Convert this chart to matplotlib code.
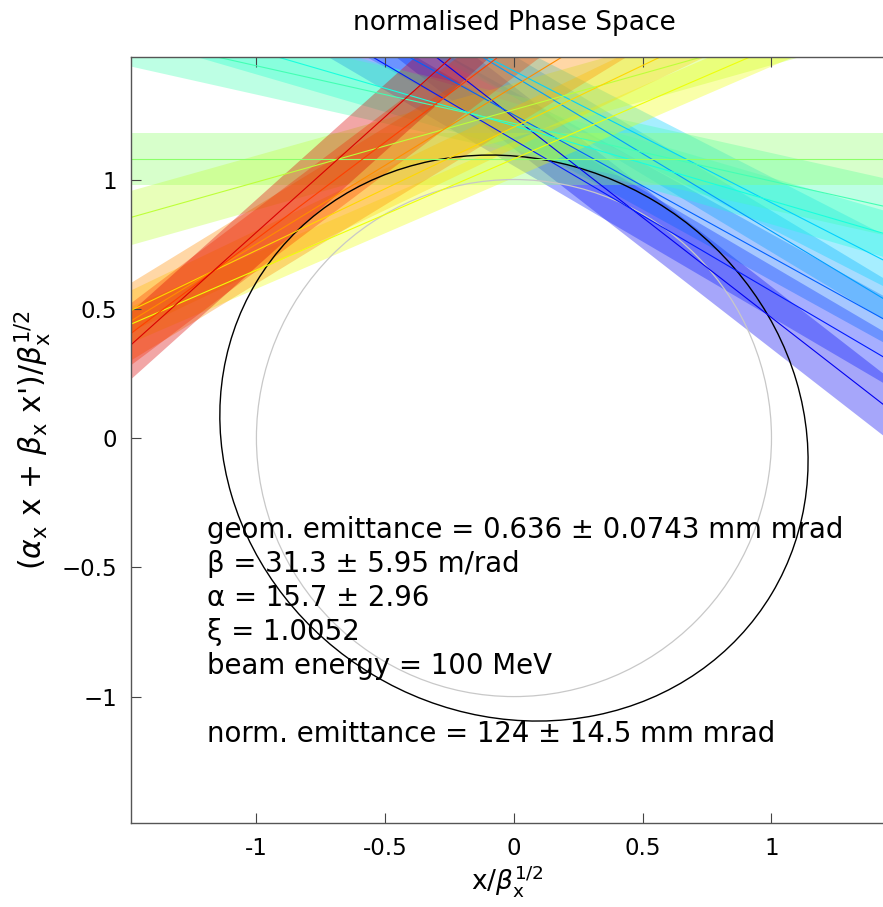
import numpy as np
import matplotlib
matplotlib.use("Agg")
import matplotlib.pyplot as plt
from matplotlib.patches import Ellipse, Circle
import matplotlib.transforms as mtransforms

# ---- measurement lines: y = slope * x + intercept, band = +/- half-width (vertical)
slopes      = [-0.774, -0.585, -0.55, -0.60, -0.51, -0.29, -0.223, 0.0, 0.28, 0.43, 0.477, 0.61, 0.75, 0.894]
intercepts  = [1.24, 1.153, 1.25, 1.40, 1.42, 1.208, 1.217, 1.08, 1.27, 1.08, 1.203, 1.36, 1.52, 1.69]
halfwidths  = [0.12, 0.10, 0.09, 0.08, 0.10, 0.09, 0.11, 0.10, 0.105, 0.07, 0.08, 0.15, 0.12, 0.13]
colour_vals = [0.10, 0.15, 0.22, 0.28, 0.33, 0.38, 0.43, 0.52, 0.58, 0.64, 0.68, 0.76, 0.84, 0.92]

# ---- fitted ellipse and unit circle
ell_semi_major = 1.168
ell_semi_minor = 1.067
ell_angle_deg = -31.0
circle_radius = 1.0

# ---- axes
x_limits = (-1.487, 1.433)
y_limits = (-1.489, 1.474)
x_ticks = [-1, -0.5, 0, 0.5, 1]
x_tick_labels = ["-1", "-0.5", "0", "0.5", "1"]
y_ticks = [-1, -0.5, 0, 0.5, 1]
y_tick_labels = ["\u22121", "\u22120.5", "0", "0.5", "1"]

title_text = "normalised Phase Space"
info_lines = [
    "geom. emittance = 0.636 \u00b1 0.0743 mm mrad",
    "\u03b2 = 31.3 \u00b1 5.95 m/rad",
    "\u03b1 = 15.7 \u00b1 2.96",
    "\u03be = 1.0052",
    "beam energy = 100 MeV",
    "",
    "norm. emittance = 124 \u00b1 14.5 mm mrad",
]

plt.rcParams['font.family'] = ['DejaVu Sans']
plt.rcParams['mathtext.fontset'] = 'dejavusans'

fig = plt.figure(figsize=(8.83, 9.07), dpi=100)
ax = fig.add_axes([131 / 883, 84 / 907, 752 / 883, 766 / 907])

cmap = plt.get_cmap('jet')
xs = np.linspace(x_limits[0] - 0.1, x_limits[1] + 0.1, 200)
for m, c, h, v in zip(slopes, intercepts, halfwidths, colour_vals):
    col = cmap(v)
    ys = m * xs + c
    ax.fill_between(xs, ys - h, ys + h, color=col, alpha=0.35, lw=0)
for m, c, h, v in zip(slopes, intercepts, halfwidths, colour_vals):
    col = cmap(v)
    ys = m * xs + c
    ax.plot(xs, ys, color=col, lw=0.8)

ax.add_patch(Circle((0, 0), circle_radius, fill=False, ec='#c8c8c8', lw=0.9))
ax.add_patch(Ellipse((0, 0), 2 * ell_semi_major, 2 * ell_semi_minor, angle=ell_angle_deg,
                     fill=False, ec='black', lw=1.0))

ax.set_xlim(*x_limits)
ax.set_ylim(*y_limits)

ax.set_xticks(x_ticks)
ax.set_xticklabels(x_tick_labels)
ax.set_yticks(y_ticks)
ax.set_yticklabels(y_tick_labels)
ax.tick_params(direction='in', length=7, width=0.8, color='#444444', labelsize=16.5,
               top=True, right=False, pad=10)
for sp in ax.spines.values():
    sp.set_color('#555555')
    sp.set_linewidth(1.0)
ax.spines['right'].set_visible(False)

ax.set_xlabel(r"x/$\beta_{\mathrm{x}}^{1/2}$", fontsize=19, labelpad=2)
ax.set_ylabel(r"($\alpha_{\mathrm{x}}$ x + $\beta_{\mathrm{x}}$ x')/$\beta_{\mathrm{x}}^{1/2}$",
              fontsize=21.5, labelpad=6)

trans = mtransforms.blended_transform_factory(ax.transData, ax.transAxes)
ax.text(0, 1.028, title_text, transform=trans, ha='center', va='bottom', fontsize=19)

y0 = -0.356
dy = 0.1315
for i, line in enumerate(info_lines):
    if line:
        ax.text(-1.19, y0 - i * dy, line, ha='left', va='center', fontsize=19.9)

fig.savefig("out.png", dpi=100)
